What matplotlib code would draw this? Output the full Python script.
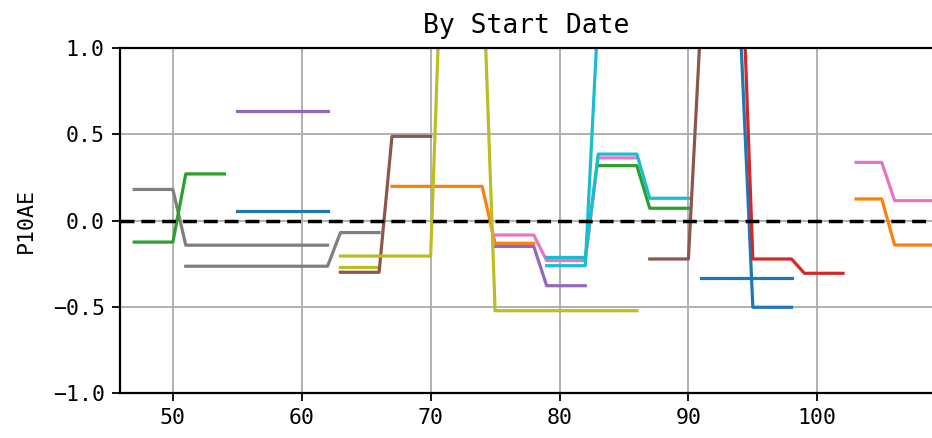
import matplotlib
matplotlib.use("Agg")
import matplotlib.pyplot as plt

plt.rcParams['font.family'] = ['DejaVu Sans Mono']

# each series: first x value, then one value per consecutive integer x
gray1_x0 = 47
gray1 = [0.18, 0.18, 0.18, 0.18,
         -0.143, -0.143, -0.143, -0.143, -0.143, -0.143,
         -0.143, -0.143, -0.143, -0.143, -0.143, -0.143]
green1_x0 = 47
green1 = [-0.125, -0.125, -0.125, -0.125, 0.27, 0.27, 0.27, 0.27]
gray2_x0 = 51
gray2 = [-0.265, -0.265, -0.265, -0.265, -0.265, -0.265,
         -0.265, -0.265, -0.265, -0.265, -0.265, -0.265,
         -0.07, -0.07, -0.07, -0.07]
blue1_x0 = 55
blue1 = [0.057, 0.057, 0.057, 0.057, 0.057, 0.057, 0.057, 0.057]
purple1_x0 = 55
purple1 = [0.636, 0.636, 0.636, 0.636, 0.636, 0.636, 0.636, 0.636]
olive2_x0 = 63
olive2 = [-0.27, -0.27, -0.27, -0.27]
brown1_x0 = 63
brown1 = [-0.30, -0.30, -0.30, -0.30, 0.488, 0.488, 0.488, 0.488]
orange1_x0 = 67
orange1 = [0.198, 0.198, 0.198, 0.198, 0.198, 0.198, 0.198, 0.198,
           -0.132, -0.132, -0.132, -0.132]
purple2_x0 = 75
purple2 = [-0.15, -0.15, -0.15, -0.15, -0.378, -0.378, -0.378, -0.378]
pink1_x0 = 75
pink1 = [-0.084, -0.084, -0.084, -0.084, -0.232, -0.232, -0.232, -0.232,
         0.363, 0.363, 0.363, 0.363]
olive1_x0 = 63
olive1 = [-0.206, -0.206, -0.206, -0.206, -0.206, -0.206, -0.206, -0.206,
          1.9, 2.0, 1.8, 1.58,
          -0.523, -0.523, -0.523, -0.523, -0.523, -0.523,
          -0.523, -0.523, -0.523, -0.523, -0.523, -0.523]
cyan1_x0 = 79
cyan1 = [-0.262, -0.262, -0.262, -0.262, 1.21, 1.3, 1.25, 1.2]
cyan2_x0 = 79
cyan2 = [-0.214, -0.214, -0.214, -0.214, 0.385, 0.385, 0.385, 0.385,
         0.129, 0.129, 0.129, 0.129]
green2_x0 = 83
green2 = [0.318, 0.318, 0.318, 0.318, 0.071, 0.071, 0.071, 0.071]
blue2_x0 = 91
blue2 = [-0.335, -0.335, -0.335, -0.335, -0.335, -0.335, -0.335, -0.335]
brown2_x0 = 87
brown2 = [-0.223, -0.223, -0.223, -0.223, 1.21, 1.25, 1.3, 1.2]
blue3_x0 = 91
blue3 = [1.3, 1.25, 1.2, 1.17, -0.503, -0.503, -0.503, -0.503]
red1_x0 = 91
red1 = [1.9, 1.9, 1.85, 1.84, -0.223, -0.223, -0.223, -0.223,
        -0.306, -0.306, -0.306, -0.306]
pink2_x0 = 103
pink2 = [0.337, 0.337, 0.337, 0.115, 0.115, 0.115, 0.115]
orange2_x0 = 103
orange2 = [0.125, 0.125, 0.125, -0.142, -0.142, -0.142, -0.142]

# draw order and colour of every series
series = [
    (gray1_x0, gray1, 'C7'), (green1_x0, green1, 'C2'),
    (gray2_x0, gray2, 'C7'), (blue1_x0, blue1, 'C0'),
    (purple1_x0, purple1, 'C4'), (olive2_x0, olive2, 'C8'),
    (brown1_x0, brown1, 'C5'), (orange1_x0, orange1, 'C1'),
    (purple2_x0, purple2, 'C4'), (pink1_x0, pink1, 'C6'),
    (olive1_x0, olive1, 'C8'), (cyan1_x0, cyan1, 'C9'),
    (green2_x0, green2, 'C2'), (cyan2_x0, cyan2, 'C9'),
    (blue2_x0, blue2, 'C0'), (brown2_x0, brown2, 'C5'),
    (blue3_x0, blue3, 'C0'), (red1_x0, red1, 'C3'),
    (pink2_x0, pink2, 'C6'), (orange2_x0, orange2, 'C1'),
]

fig = plt.figure(figsize=(9.32, 4.38), dpi=100)
ax = fig.add_axes([0.1288, 0.1027, 0.8712, 0.7877])

for x0, vals, col in series:
    xs = list(range(x0, x0 + len(vals)))
    ax.plot(xs, vals, color=col, linewidth=2.3)

ax.axhline(0, color='black', linewidth=2.5, linestyle='--', dashes=(4.0, 2.0), zorder=3)

ax.set_xlim(45.9, 108.9)
ax.set_ylim(-1.0, 1.0)
ax.set_xticks([50, 60, 70, 80, 90, 100])
ax.set_yticks([-1.0, -0.5, 0.0, 0.5, 1.0])
ax.grid(True, color='#b0b0b0', linewidth=1.4)
ax.set_axisbelow(True)

for s in ['left', 'bottom', 'top']:
    ax.spines[s].set_linewidth(1.6)
ax.spines['right'].set_visible(False)
ax.tick_params(labelsize=15.5, length=6, width=1.3, pad=5)

ax.set_ylabel('P10AE', fontsize=15.5, labelpad=12)
ax.set_title('By Start Date', fontsize=19, pad=11)

fig.savefig('out.png', dpi=100)
